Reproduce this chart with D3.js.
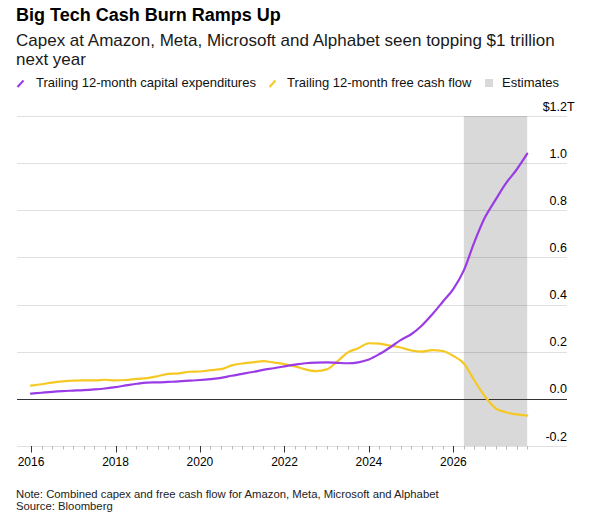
<!DOCTYPE html>
<html><head><meta charset="utf-8">
<script src="https://cdn.jsdelivr.net/npm/d3@7"></script>
<style>
html,body{margin:0;padding:0;background:#fff;}
svg{display:block;font-family:"Liberation Sans",Arial,Helvetica,sans-serif;}
</style></head><body>
<svg id="chart" width="613" height="517"></svg>
<script>
const quarters = [
  "2016-01","2016-04","2016-07","2016-10","2017-01","2017-04","2017-07","2017-10",
  "2018-01","2018-04","2018-07","2018-10","2019-01","2019-04","2019-07","2019-10",
  "2020-01","2020-04","2020-07","2020-10","2021-01","2021-04","2021-07","2021-10",
  "2022-01","2022-04","2022-07","2022-10","2023-01","2023-04","2023-07","2023-10",
  "2024-01","2024-04","2024-07","2024-10","2025-01","2025-04","2025-07","2025-10",
  "2026-01","2026-04","2026-07","2026-10","2027-01","2027-04","2027-07","2027-10"
];
// Trailing 12-month capital expenditures ($T)
const capex = [
  0.022,0.026,0.030,0.033, 0.035,0.037,0.040,0.044,
  0.050,0.057,0.064,0.069, 0.070,0.072,0.074,0.077,
  0.080,0.084,0.089,0.098, 0.106,0.114,0.123,0.130,
  0.138,0.145,0.151,0.154, 0.155,0.153,0.151,0.155,
  0.167,0.190,0.218,0.249, 0.274,0.310,0.358,0.412,
  0.467,0.545,0.665,0.770, 0.845,0.915,0.972,1.040
];
// Trailing 12-month free cash flow ($T)
const fcf = [
  0.056,0.062,0.069,0.074, 0.077,0.078,0.078,0.081,
  0.078,0.080,0.085,0.088, 0.096,0.106,0.108,0.115,
  0.116,0.122,0.126,0.142, 0.150,0.155,0.160,0.154,
  0.147,0.138,0.125,0.118, 0.125,0.158,0.196,0.215,
  0.236,0.234,0.226,0.218, 0.205,0.200,0.207,0.203,
  0.182,0.150,0.078,0.010, -0.040,-0.057,-0.066,-0.071
];
const yTicks = [-0.2, 0, 0.2, 0.4, 0.6, 0.8, 1.0, 1.2];
const xTickYears = ["2016","2018","2020","2022","2024","2026"];
const estimateRange = ["2026-04", "2027-10"];
const titleText = "Big Tech Cash Burn Ramps Up";
const subtitleLines = ["Capex at Amazon, Meta, Microsoft and Alphabet seen topping $1 trillion", "next year"];
const legendLabels = ["Trailing 12-month capital expenditures", "Trailing 12-month free cash flow", "Estimates"];
const noteLines = ["Note: Combined capex and free cash flow for Amazon, Meta, Microsoft and Alphabet", "Source: Bloomberg"];

const PURPLE = "#9b3be6", YELLOW = "#f6c823", SHADE = "#d9d9d9";
const parseQ = d3.timeParse("%Y-%m");
const parseY = d3.timeParse("%Y");
const dates = quarters.map(parseQ);

const svg = d3.select("#chart");
svg.append("rect").attr("width",613).attr("height",517).attr("fill","#fff");

const x = d3.scaleTime().domain([dates[0], dates[dates.length-1]]).range([31, 527.2]);
const y = d3.scaleLinear().domain([-0.2, 1.2]).range([446, 116]);
const gridX0 = 17, gridX1 = 567;

// Title, subtitle
svg.append("text").attr("x",16).attr("y",21).attr("font-size",18).attr("font-weight","bold")
  .attr("fill","#000").text(titleText);
svg.selectAll("text.sub").data(subtitleLines).join("text").attr("class","sub")
  .attr("x",16).attr("y",(d,i)=>46 + i*18.7).attr("font-size",17).attr("fill","#1a1a1a").text(d=>d);

// Legend
const lg = svg.append("g").attr("font-size",13).attr("fill","#111");
lg.append("line").attr("x1",17.5).attr("y1",87).attr("x2",23.5).attr("y2",80.5).attr("stroke",PURPLE).attr("stroke-width",2);
lg.append("text").attr("x",36).attr("y",87).text(legendLabels[0]);
lg.append("line").attr("x1",269.5).attr("y1",87).attr("x2",275.5).attr("y2",80.5).attr("stroke",YELLOW).attr("stroke-width",2);
lg.append("text").attr("x",287).attr("y",87).text(legendLabels[1]);
lg.append("rect").attr("x",485).attr("y",79).attr("width",8).attr("height",8).attr("fill",SHADE);
lg.append("text").attr("x",502).attr("y",87).text(legendLabels[2]);

// Estimates shading
svg.append("rect")
  .attr("x", x(parseQ(estimateRange[0])))
  .attr("width", x(parseQ(estimateRange[1])) - x(parseQ(estimateRange[0])))
  .attr("y", y(1.2)).attr("height", y(-0.2) - y(1.2))
  .attr("fill", SHADE);

// Gridlines
svg.append("g").selectAll("line").data(yTicks.filter(v=>v!==0)).join("line")
  .attr("x1",gridX0).attr("x2",gridX1)
  .attr("y1",d=>Math.round(y(d))+0.5).attr("y2",d=>Math.round(y(d))+0.5)
  .attr("stroke","#000").attr("stroke-opacity",0.12).attr("stroke-width",1);

// Y labels
const fmt = v => (v<0?"-":"") + Math.abs(v).toFixed(1);
const yl = svg.append("g").attr("font-size",12.5).attr("fill","#000");
yTicks.forEach(v => {
  const t = yl.append("text").attr("y", y(v)-5.5).attr("text-anchor","end");
  if (v === 1.2) {
    t.text("T");
    const tw = t.node().getComputedTextLength();
    t.attr("x", gridX1 + tw).text("$" + fmt(v) + "T");
  } else {
    t.attr("x", gridX1).text(fmt(v));
  }
});

// X axis ticks (quarterly)
const xa = svg.append("g");
dates.forEach((d,i) => {
  const major = d.getMonth()===0 && d.getFullYear()%2===0;
  const xx = Math.round(x(d))+0.5;
  xa.append("line").attr("x1",xx).attr("x2",xx).attr("y1",446).attr("y2",major?452.5:449.5)
    .attr("stroke",major?"#333":"#bbb").attr("stroke-width",1);
});
xa.selectAll("text").data(xTickYears).join("text")
  .attr("x",d=>x(parseY(d))).attr("y",465.5).attr("text-anchor","middle")
  .attr("font-size",12).attr("fill","#000").text(d=>d);

// Zero line
svg.append("line").attr("x1",gridX0).attr("x2",gridX1)
  .attr("y1",Math.round(y(0))+0.5).attr("y2",Math.round(y(0))+0.5)
  .attr("stroke","#333").attr("stroke-width",1);

// Lines
const line = d3.line().x((d,i)=>x(dates[i])).y(d=>y(d)).curve(d3.curveMonotoneX);
svg.append("path").datum(fcf).attr("d",line).attr("fill","none").attr("stroke",YELLOW)
  .attr("stroke-width",2.2).attr("stroke-linejoin","round").attr("stroke-linecap","round");
svg.append("path").datum(capex).attr("d",line).attr("fill","none").attr("stroke",PURPLE)
  .attr("stroke-width",2.2).attr("stroke-linejoin","round").attr("stroke-linecap","round");

// Notes
svg.selectAll("text.note").data(noteLines).join("text").attr("class","note")
  .attr("x",16).attr("y",(d,i)=>497.5 + i*12.7).attr("font-size",11.3).attr("fill","#222").text(d=>d);
</script>
</body></html>
